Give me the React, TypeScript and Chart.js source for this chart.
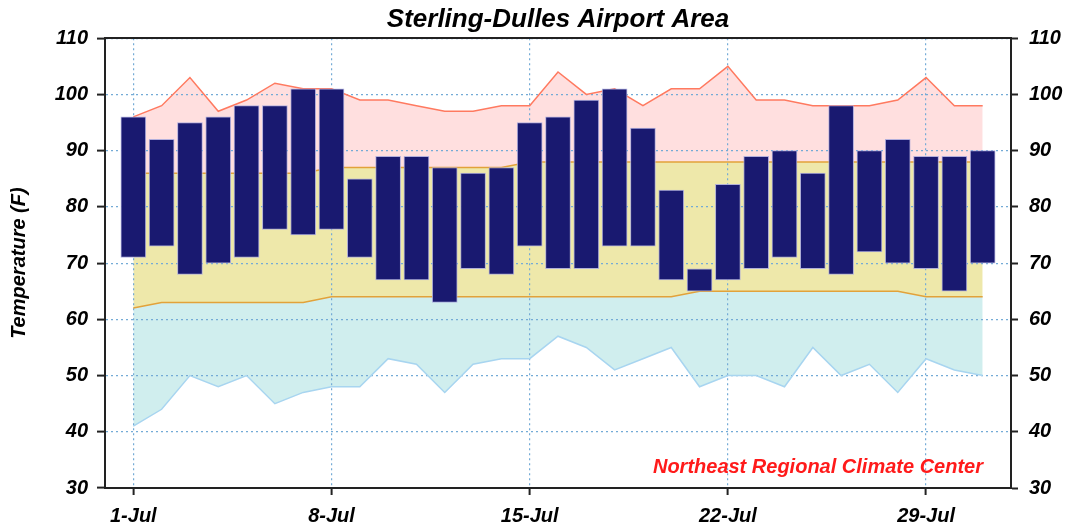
import { useEffect, useRef } from 'react';
import { Chart, registerables } from 'chart.js';

Chart.register(...registerables);

const days = [1, 2, 3, 4, 5, 6, 7, 8, 9, 10, 11, 12, 13, 14, 15, 16, 17, 18, 19, 20, 21, 22, 23, 24, 25, 26, 27, 28, 29, 30, 31];
const maxTemps = [96, 92, 95, 96, 98, 98, 101, 101, 85, 89, 89, 87, 86, 87, 95, 96, 99, 101, 94, 83, 69, 84, 89, 90, 86, 98, 90, 92, 89, 89, 90];
const minTemps = [71, 73, 68, 70, 71, 76, 75, 76, 71, 67, 67, 63, 69, 68, 73, 69, 69, 73, 73, 67, 65, 67, 69, 71, 69, 68, 72, 70, 69, 65, 70];
const recordHigh = [96, 98, 103, 97, 99, 102, 101, 101, 99, 99, 98, 97, 97, 98, 98, 104, 100, 101, 98, 101, 101, 105, 99, 99, 98, 98, 98, 99, 103, 98, 98];
const normalHigh = [86, 86, 86, 86, 86, 86, 86, 87, 87, 87, 87, 87, 87, 87, 88, 88, 88, 88, 88, 88, 88, 88, 88, 88, 88, 88, 88, 88, 88, 88, 88];
const normalLow = [62, 63, 63, 63, 63, 63, 63, 64, 64, 64, 64, 64, 64, 64, 64, 64, 64, 64, 64, 64, 65, 65, 65, 65, 65, 65, 65, 65, 64, 64, 64];
const recordLow = [41, 44, 50, 48, 50, 45, 47, 48, 48, 53, 52, 47, 52, 53, 53, 57, 55, 51, 53, 55, 48, 50, 50, 48, 55, 50, 52, 47, 53, 51, 50];
const tickDays = [1, 8, 15, 22, 29];
const tickLabels = ['1-Jul', '8-Jul', '15-Jul', '22-Jul', '29-Jul'];

const TITLE = 'Sterling-Dulles Airport Area';
const Y_TITLE = 'Temperature (F)';
const CREDIT = 'Northeast Regional Climate Center';

const FONT = '"Liberation Sans", Arial, Helvetica, sans-serif';
const GRID_COLOR = '#74abd6';
const AXIS_COLOR = '#222222';

const creditPlugin = {
  id: 'creditText',
  afterDatasetsDraw(chart: any) {
    const { ctx, chartArea } = chart;
    ctx.save();
    ctx.font = `italic bold 20px ${FONT}`;
    ctx.fillStyle = '#ff1a1a';
    ctx.textAlign = 'right';
    ctx.textBaseline = 'alphabetic';
    ctx.fillText(CREDIT, chartArea.right - 28, chartArea.bottom - 15);
    ctx.restore();
  },
};

export default function App() {
  const ref = useRef<HTMLCanvasElement | null>(null);

  useEffect(() => {
    document.body.style.margin = '0';
    const canvas = ref.current;
    if (!canvas) return;
    const pts = (arr: number[]) => days.map((d, i) => ({ x: d, y: arr[i] }));
    const tickFont = { family: FONT, size: 20, style: 'italic' as const, weight: 'bold' as const };

    const chart = new Chart(canvas, {
      type: 'bar',
      data: {
        datasets: [
          {
            type: 'bar',
            label: 'Observed',
            data: days.map((d, i) => ({ x: d, y: [minTemps[i], maxTemps[i]] })) as any,
            backgroundColor: '#191970',
            borderColor: 'rgba(170,170,220,0.9)',
            borderWidth: 1,
            borderSkipped: false,
            barThickness: 25,
            order: 0,
            xAxisID: 'x',
            yAxisID: 'y',
          } as any,
          {
            type: 'line',
            label: 'Record High',
            data: pts(recordHigh),
            borderColor: '#ff7a60',
            backgroundColor: '#ffdfdf',
            borderWidth: 1.5,
            fill: '+1',
            pointRadius: 0,
            tension: 0,
            order: 1,
            xAxisID: 'x',
            yAxisID: 'y',
          } as any,
          {
            type: 'line',
            label: 'Normal High',
            data: pts(normalHigh),
            borderColor: '#e2a23a',
            backgroundColor: '#eee8aa',
            borderWidth: 1.5,
            fill: '+1',
            pointRadius: 0,
            tension: 0,
            order: 2,
            xAxisID: 'x',
            yAxisID: 'y',
          } as any,
          {
            type: 'line',
            label: 'Normal Low',
            data: pts(normalLow),
            borderColor: '#e2a23a',
            backgroundColor: '#d0eeee',
            borderWidth: 1.5,
            fill: '+1',
            pointRadius: 0,
            tension: 0,
            order: 3,
            xAxisID: 'x',
            yAxisID: 'y',
          } as any,
          {
            type: 'line',
            label: 'Record Low',
            data: pts(recordLow),
            borderColor: '#a8d5f0',
            borderWidth: 1.5,
            fill: false,
            pointRadius: 0,
            tension: 0,
            order: 4,
            xAxisID: 'x',
            yAxisID: 'y',
          } as any,
        ],
      },
      options: {
        responsive: false,
        animation: false,
        devicePixelRatio: 1,
        layout: { padding: 0 },
        plugins: {
          legend: { display: false },
          tooltip: { enabled: false },
          filler: { drawTime: 'beforeDraw' } as any,
          title: {
            display: true,
            text: TITLE,
            fullSize: false,
            color: '#000',
            font: { family: FONT, size: 26, style: 'italic', weight: 'bold' },
            padding: { top: 4, bottom: 3 },
          },
        },
        scales: {
          x: {
            type: 'linear',
            position: 'bottom',
            min: 0,
            max: 32,
            offset: false,
            afterBuildTicks: (s: any) => {
              s.ticks = tickDays.map((v) => ({ value: v }));
            },
            afterFit: (s: any) => {
              s.height = 41;
            },
            ticks: {
              color: '#000',
              font: tickFont,
              padding: 9,
              maxRotation: 0,
              autoSkip: false,
              callback: (v: any) => {
                const i = tickDays.indexOf(Number(v));
                return i >= 0 ? tickLabels[i] : '';
              },
            },
            grid: {
              offset: false,
              color: GRID_COLOR,
              lineWidth: 1.2,
              borderDash: [2, 3],
              tickColor: AXIS_COLOR,
              tickWidth: 2,
              tickLength: 7,
              tickBorderDash: [],
            } as any,
            border: { display: true, color: AXIS_COLOR, width: 2, dash: [2, 3] } as any,
          },
          xTop: {
            type: 'linear',
            position: 'top',
            min: 0,
            max: 32,
            afterFit: (s: any) => {
              s.height = 0;
            },
            ticks: { display: false },
            grid: { display: false, drawTicks: false },
            border: { display: true, color: AXIS_COLOR, width: 2 },
          } as any,
          y: {
            type: 'linear',
            position: 'left',
            min: 30,
            max: 110,
            afterFit: (s: any) => {
              s.width = 105;
            },
            ticks: { stepSize: 10, color: '#000', font: tickFont, padding: 9 },
            title: {
              display: true,
              text: Y_TITLE,
              color: '#000',
              font: { family: FONT, size: 20, style: 'italic', weight: 'bold' },
              padding: { top: 7, bottom: 0 },
            },
            grid: {
              color: GRID_COLOR,
              lineWidth: 1.2,
              borderDash: [2, 3],
              tickColor: AXIS_COLOR,
              tickWidth: 2,
              tickLength: 8,
              tickBorderDash: [],
            } as any,
            border: { display: true, color: AXIS_COLOR, width: 2, dash: [2, 3] } as any,
          },
          y2: {
            type: 'linear',
            position: 'right',
            min: 30,
            max: 110,
            afterFit: (s: any) => {
              s.width = 67;
            },
            ticks: { stepSize: 10, color: '#000', font: tickFont, padding: 11 },
            grid: {
              drawOnChartArea: false,
              color: AXIS_COLOR,
              tickColor: AXIS_COLOR,
              tickWidth: 2,
              tickLength: 7,
              tickBorderDash: [],
            } as any,
            border: { display: true, color: AXIS_COLOR, width: 2 },
          },
        },
      },
      plugins: [creditPlugin],
    });

    return () => chart.destroy();
  }, []);

  return (
    <div style={{ width: 1078, height: 529 }}>
      <canvas ref={ref} width={1078} height={529} style={{ display: 'block' }} />
    </div>
  );
}
